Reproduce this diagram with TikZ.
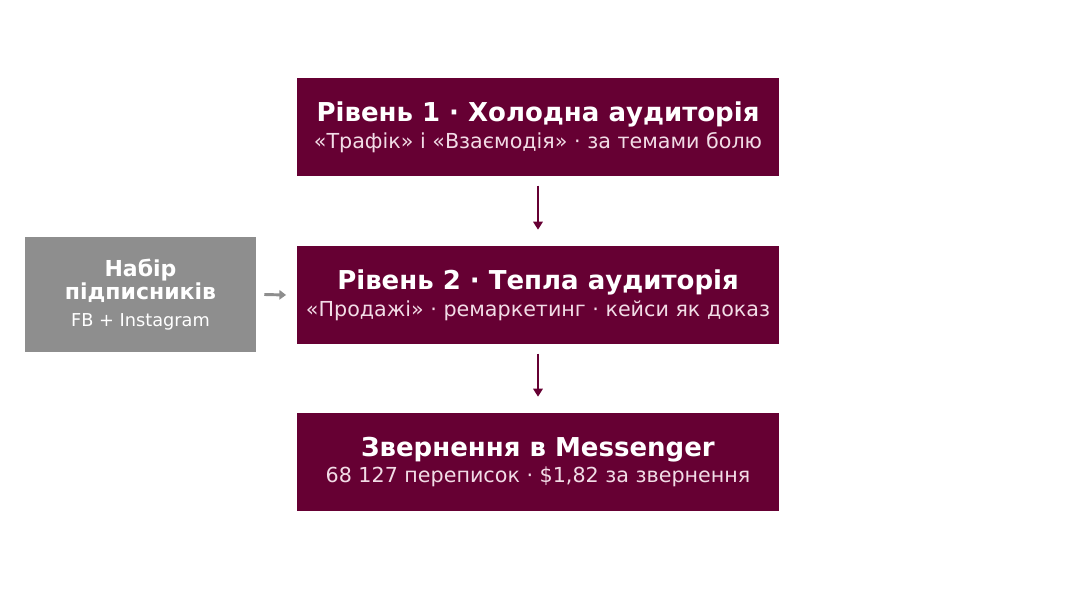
\documentclass[tikz,border=0pt]{standalone}
\usepackage{fontspec}
\setmainfont{DejaVu Sans}
\usetikzlibrary{positioning,arrows.meta}
\definecolor{wine}{HTML}{660033}
\definecolor{pinkish}{HTML}{F2DCE6}
\definecolor{greybox}{HTML}{8E8E8E}
\tikzset{
	level/.style={fill=wine,minimum width=361.5pt,minimum height=73.5pt,inner sep=0pt,align=center,text=white},
	side/.style={fill=greybox,minimum width=173.25pt,minimum height=86.25pt,inner sep=0pt,align=center,text=white},
	flow/.style={draw=wine,line width=2.2pt,-{Triangle[length=6pt,width=7pt]}},
	feed/.style={draw=greybox,line width=2.2pt,-{Triangle[length=5pt,width=7pt]}}
}
\newcommand{\lvl}[2]{{\fontsize{19.5}{24}\selectfont\bfseries #1}\\[3pt]{\fontsize{15.5}{19}\selectfont\color{pinkish}#2}}
\newcommand{\bigb}{\fontsize{16.5}{20}\selectfont\bfseries}
\begin{document}
\begin{tikzpicture}[x=0.75pt,y=-0.75pt]
	\useasboundingbox (0,0) rectangle (1076,607);
	\node[level] (l1) at (538,127) {\lvl{Рівень 1 · Холодна аудиторія}{«Трафік» і «Взаємодія» · за темами болю}};
	\node[level] (l2) at (538,295) {\lvl{Рівень 2 · Тепла аудиторія}{«Продажі» · ремаркетинг · кейси як доказ}};
	\node[level] (l3) at (538,462) {\lvl{Звернення в Messenger}{68 127 переписок · \$1,82 за звернення}};
	\node[side] (subs) at (140.5,294.5) {\bigb Набір\\\bigb підписників\\[8pt]\fontsize{13.3}{16}\selectfont FB + Instagram};
	% connectors
	\draw[flow] ([yshift=-7pt]l1.south) -- ([yshift=12pt]l2.north);
	\draw[flow] ([yshift=-7pt]l2.south) -- ([yshift=12pt]l3.north);
	\draw[feed] ([xshift=6pt]subs.east) -- ([xshift=-8pt]l2.west);
\end{tikzpicture}
\end{document}
